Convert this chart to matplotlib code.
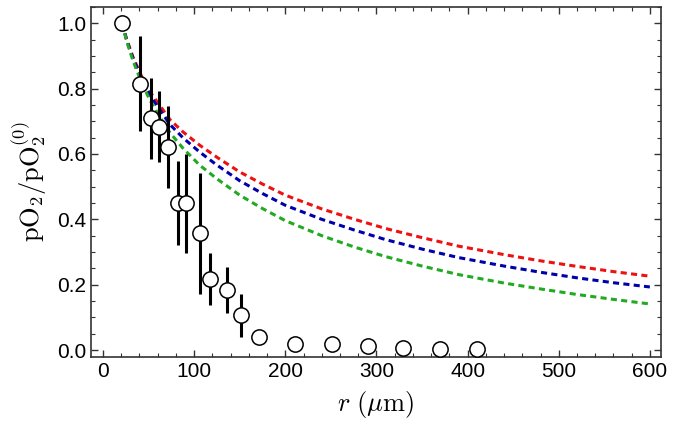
import numpy as np
import matplotlib
matplotlib.use("Agg")
import matplotlib.pyplot as plt
from matplotlib.ticker import MultipleLocator

plt.rcParams['font.family'] = ['Liberation Sans', 'DejaVu Sans']
plt.rcParams['mathtext.fontset'] = 'cm'

# measured points
r_data = [21.0, 41.1, 52.4, 61.2, 71.5, 81.9, 91.5, 106.8, 117.0, 136.4, 151.7,
          171.1, 210.5, 251.0, 290.5, 329.5, 369.7, 409.8]
y_data = [1.0, 0.815, 0.710, 0.684, 0.621, 0.449, 0.449, 0.357, 0.217, 0.183, 0.107,
          0.041, 0.019, 0.019, 0.011, 0.007, 0.003, 0.002]
y_err = [0.0, 0.146, 0.124, 0.11, 0.126, 0.129, 0.151, 0.185, 0.08, 0.071, 0.066,
         0.0, 0.0, 0.0, 0.0, 0.0, 0.0, 0.0]

# model curves
r_model = [21, 26, 33, 42, 51.5, 62, 73.5, 88, 106, 125, 150, 175, 200, 240, 276,
           310, 350, 390, 440, 480, 520, 560, 600]
y_red = [1.0, 0.951, 0.896, 0.84, 0.79, 0.75, 0.705, 0.667, 0.627, 0.590, 0.545,
         0.508, 0.474, 0.432, 0.400, 0.372, 0.344, 0.318, 0.292, 0.273, 0.256, 0.240, 0.226]
y_blue = [1.0, 0.948, 0.892, 0.833, 0.78, 0.737, 0.69, 0.649, 0.606, 0.566, 0.518,
          0.479, 0.443, 0.400, 0.367, 0.338, 0.309, 0.283, 0.257, 0.238, 0.221, 0.206, 0.193]
y_green = [1.0, 0.945, 0.885, 0.82, 0.765, 0.715, 0.665, 0.617, 0.566, 0.524, 0.474,
           0.433, 0.396, 0.350, 0.315, 0.286, 0.257, 0.231, 0.205, 0.187, 0.170, 0.155, 0.141]

fig = plt.figure(figsize=(6.75, 4.33), dpi=100)
ax = fig.add_axes([0.135, 0.175, 0.844, 0.809])

dash = (0, (2.0, 1.4))
ax.plot(r_model, y_red, color='#ee1111', lw=2.2, ls=dash, zorder=2)
ax.plot(r_model, y_blue, color='#0000aa', lw=2.2, ls=dash, zorder=2)
ax.plot(r_model, y_green, color='#22aa22', lw=2.2, ls=dash, zorder=2)

ax.errorbar(r_data, y_data, yerr=y_err, fmt='none', ecolor='black', elinewidth=2.2,
            capsize=0, zorder=3)
ax.plot(r_data, y_data, 'o', ms=11, mfc='white', mec='black', mew=1.1, zorder=4)

ax.set_xlim(-13, 612)
ax.set_ylim(-0.022, 1.05)
ax.xaxis.set_major_locator(MultipleLocator(100))
ax.xaxis.set_minor_locator(MultipleLocator(20))
ax.yaxis.set_major_locator(MultipleLocator(0.2))
ax.yaxis.set_minor_locator(MultipleLocator(0.05))
ax.yaxis.set_major_formatter(matplotlib.ticker.FormatStrFormatter('%.1f'))
ax.tick_params(which='both', direction='in', top=True, right=True, labelsize=15,
               color='#333333')
ax.tick_params(which='major', length=5, width=1)
ax.tick_params(which='minor', length=3, width=0.8)
for s in ax.spines.values():
    s.set_color('#333333')
    s.set_linewidth(1.2)

ax.set_xlabel(r'$r\ (\mu\mathrm{m})$', fontsize=19, labelpad=6)
ax.set_ylabel(r'$\mathrm{pO}_2/\mathrm{pO}_2^{(0)}$', fontsize=19, labelpad=6)

fig.savefig('out.png', dpi=100)
